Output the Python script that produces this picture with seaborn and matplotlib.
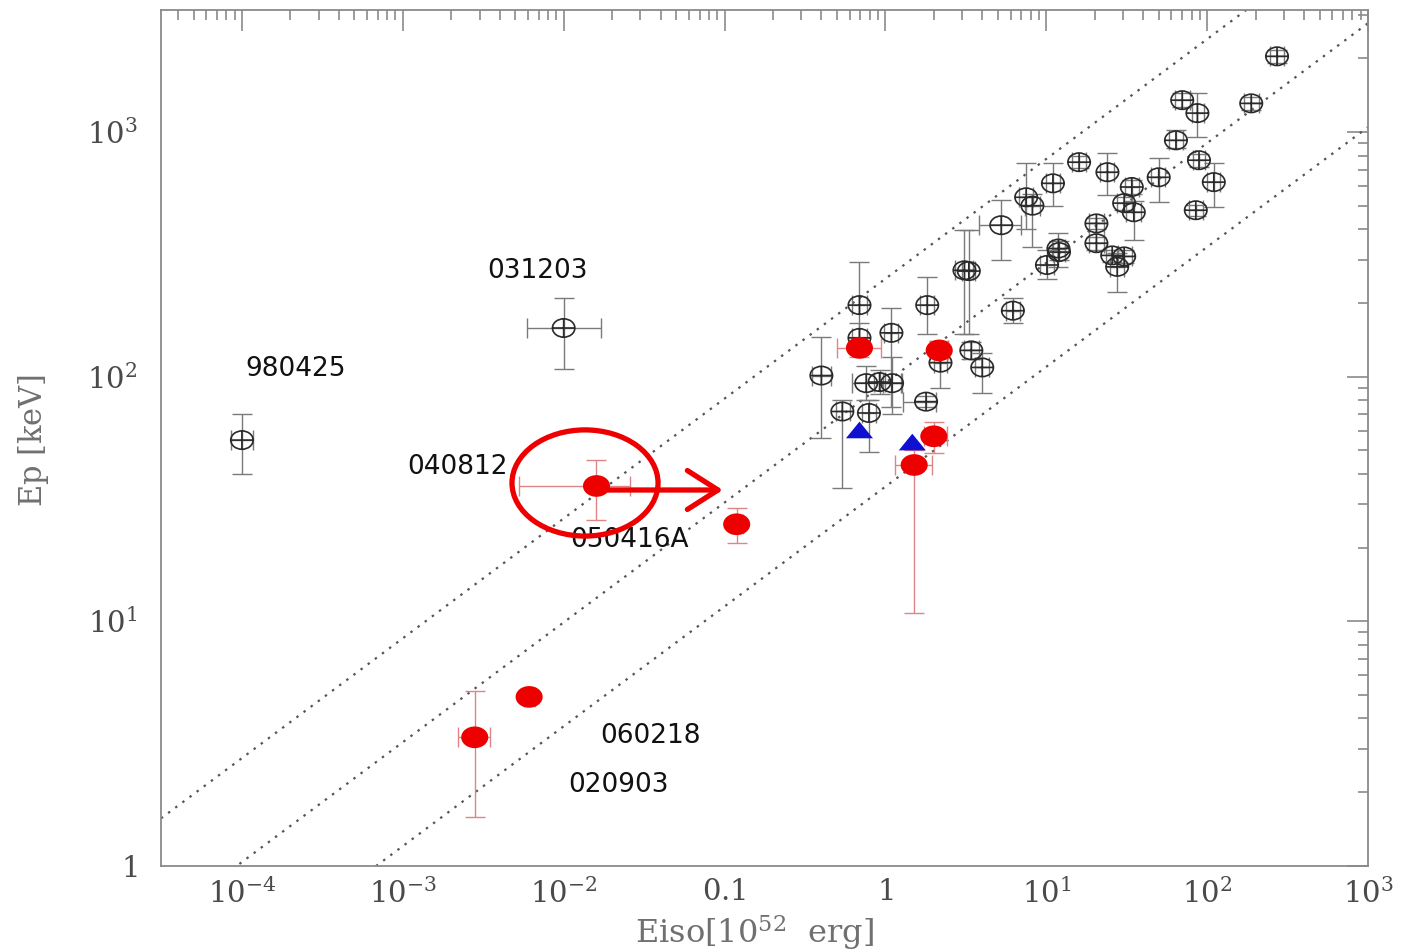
import numpy as np
import pandas as pd
import matplotlib
matplotlib.use("Agg")
import matplotlib.pyplot as plt
import seaborn as sns
from matplotlib.path import Path
from matplotlib.patches import Ellipse

# ---------------- data ----------------
# Long GRBs (open circles): Eiso [1e52 erg], Ep [keV], and error bounds
grb_eiso = [1.0e-4, 0.010, 272, 70, 87, 188, 64, 89, 110, 85, 50, 34, 30.5, 35, 24,
            16, 11, 7.5, 8.2, 5.25, 20.5, 20.5, 11.9, 25.7, 30.5, 27.6, 12, 10.1, 3.1,
            3.3, 6.2, 0.69, 1.82, 1.09, 0.69, 2.2, 3.42, 4.0, 0.40, 0.76, 0.92, 1.1,
            0.54, 0.79, 1.79]
grb_ep = [55, 158, 2040, 1350, 1195, 1310, 925, 767, 624, 479, 653, 596, 512, 470, 685,
          753, 617, 541, 500, 416, 423, 351, 334, 313, 310, 281, 323, 286, 272,
          270, 186, 196, 196, 151, 144, 114, 128, 109, 101, 94, 95, 94,
          72, 71, 79]
grb_eiso_lo = [0.85e-4, 0.0059, 245, 63, 80, 170, 58, 82, 100, 77, 45, 31, 27.5, 31.5, 21.5,
               14.5, 10, 6.8, 7.4, 3.8, 18.5, 18.5, 10.8, 23.5, 27.5, 25, 11, 9.2, 2.7,
               3.0, 5.6, 0.62, 1.65, 0.98, 0.62, 2.0, 3.1, 3.6, 0.35, 0.62, 0.85, 0.97,
               0.49, 0.72, 1.28]
grb_eiso_hi = [1.18e-4, 0.017, 300, 78, 95, 210, 71, 97, 121, 94, 55, 37.5, 34, 39, 26.5,
               17.6, 12.2, 8.3, 9.1, 7.0, 22.7, 22.7, 13.1, 28, 34, 30.5, 13, 11.2, 3.5,
               3.6, 6.9, 0.77, 2.0, 1.2, 0.77, 2.4, 3.8, 4.4, 0.46, 1.27, 1.0, 1.25,
               0.60, 0.87, 2.07]
grb_ep_lo = [40, 107, 1920, 1270, 950, 1230, 860, 720, 492, 455, 517, 560, 480, 361, 551,
             710, 500, 400, 338, 299, 400, 330, 280, 295, 292, 221, 300, 250, 150,
             150, 165, 130, 150, 75, 125, 90, 118, 86, 56, 80, 85, 70,
             35, 49, 75]
grb_ep_hi = [70, 209, 2170, 1440, 1440, 1390, 1020, 815, 745, 505, 782, 635, 545, 520, 818,
             800, 745, 745, 560, 525, 447, 372, 385, 330, 330, 320, 360, 330, 396,
             396, 209, 293, 256, 190, 165, 130, 138, 125, 145, 110, 106, 120,
             80, 80, 83]

# Sub-energetic / XRF events (filled red)
xrf_eiso = [0.016, 0.119, 0.0061, 0.0028, 0.69, 2.16, 2.0, 1.51]
xrf_ep = [35.7, 24.9, 4.9, 3.35, 131, 128, 57, 43.5]
xrf_eiso_lo = [0.0053, 0.110, 0.0057, 0.0022, 0.50, 1.90, 1.75, 1.14]
xrf_eiso_hi = [0.026, 0.130, 0.0066, 0.0035, 0.94, 2.45, 2.40, 1.96]
xrf_ep_lo = [26, 20.9, 4.7, 1.58, 120, 115, 48.5, 10.8]
xrf_ep_hi = [45.5, 29, 5.1, 5.2, 145, 140, 65, 50]

# Extra events (blue triangles)
tri_eiso = [0.69, 1.47]
tri_ep = [60.5, 54]

# Event names and where they are written
name_text = ["031203", "980425", "040812", "050416A", "060218", "020903"]
name_x = [0.0069, 2.16e-4, 2.2e-3, 0.0257, 0.0347, 0.022]
name_y = [270, 107, 42.7, 21.4, 3.4, 2.14]

# Ep-Eiso correlation (slope) and normalisations of the three dotted lines
corr_slope = 0.49
corr_log_norm = [2.40, 1.975, 1.55]

x_ticks = [1e-4, 1e-3, 1e-2, 0.1, 1, 10, 100, 1000]
x_ticklabels = [r"$10^{-4}$", r"$10^{-3}$", r"$10^{-2}$", r"$0.1$", r"$1$",
                r"$10^{1}$", r"$10^{2}$", r"$10^{3}$"]
y_ticks = [1, 10, 100, 1000]
y_ticklabels = [r"$1$", r"$10^{1}$", r"$10^{2}$", r"$10^{3}$"]

# ---------------- style ----------------
sns.set_style("white")
plt.rcParams["font.family"] = ["DejaVu Sans"]
plt.rcParams["mathtext.fontset"] = "dejavuserif"

W, H = 1402, 950
fig = plt.figure(figsize=(W / 100, H / 100), dpi=100)
ax = fig.add_axes([161 / W, 1 - 865.7 / H, 1207 / W, 856.2 / H])
ax.set_xscale("log")
ax.set_yscale("log")
xmin, xmax = 3.14e-5, 1000
ymin, ymax = 1, 3170
ax.set_xlim(xmin, xmax)
ax.set_ylim(ymin, ymax)

# markers: open ellipse with a cross, filled ellipse, wide triangle
circ = Path.unit_circle()
ell = Path(circ.vertices * np.array([1.22, 1.0]), circ.codes)
cross = Path([[-1.22, 0], [1.22, 0], [0, -1], [0, 1]],
             [Path.MOVETO, Path.LINETO, Path.MOVETO, Path.LINETO])
oplus = Path.make_compound_path(ell, cross)
red_ell = Path(circ.vertices * np.array([1.25, 1.0]), circ.codes)
tri = Path([[0, 0.8], [-1.3, -0.8], [1.3, -0.8], [0, 0.8]],
           [Path.MOVETO, Path.LINETO, Path.LINETO, Path.CLOSEPOLY])

# correlation lines
lx = np.array([xmin, xmax])
for c in corr_log_norm:
    ax.plot(lx, 10 ** (corr_slope * np.log10(lx) + c), color="#555555",
            lw=1.6, linestyle=(0, (1.1, 2.9)), zorder=1)

# error bars
grb = pd.DataFrame({"eiso": grb_eiso, "ep": grb_ep})
xrf = pd.DataFrame({"eiso": xrf_eiso, "ep": xrf_ep})
tri_df = pd.DataFrame({"eiso": tri_eiso, "ep": tri_ep})

ax.errorbar(grb["eiso"], grb["ep"],
            xerr=[grb["eiso"] - np.array(grb_eiso_lo), np.array(grb_eiso_hi) - grb["eiso"]],
            yerr=[grb["ep"] - np.array(grb_ep_lo), np.array(grb_ep_hi) - grb["ep"]],
            fmt="none", ecolor="#7a7a7a", elinewidth=1.0, capsize=7, capthick=1.0, zorder=2)
ax.errorbar(xrf["eiso"], xrf["ep"],
            xerr=[xrf["eiso"] - np.array(xrf_eiso_lo), np.array(xrf_eiso_hi) - xrf["eiso"]],
            yerr=[xrf["ep"] - np.array(xrf_ep_lo), np.array(xrf_ep_hi) - xrf["ep"]],
            fmt="none", ecolor="#e08585", elinewidth=1.0, capsize=7, capthick=1.0, zorder=2)

# points
sns.scatterplot(data=grb, x="eiso", y="ep", marker=oplus, s=260,
                facecolor="none", edgecolor="#2a2a2a", linewidth=1.2, ax=ax, zorder=3)
sns.scatterplot(data=xrf, x="eiso", y="ep", marker=red_ell, s=380,
                color="#ee0000", edgecolor="none", linewidth=0, ax=ax, zorder=4)
sns.scatterplot(data=tri_df, x="eiso", y="ep", marker=tri, s=380,
                color="#1010d0", edgecolor="none", linewidth=0, ax=ax, zorder=4)

# event names
for t, x, y in zip(name_text, name_x, name_y):
    ax.text(x, y, t, ha="center", va="center", fontsize=19, color="#111111",
            family="DejaVu Sans", zorder=5)

# highlight of 040812 and arrow
ax.add_patch(Ellipse((0.3513, 0.447), 0.121, 0.124, transform=ax.transAxes,
                     fill=False, edgecolor="#ee0000", lw=3.8, zorder=6))
ax.annotate("", xy=(0.4655, 0.4388), xytext=(0.3537, 0.4388),
            xycoords="axes fraction", textcoords="axes fraction",
            arrowprops=dict(arrowstyle="->,head_length=0.55,head_width=0.35",
                            lw=3.8, color="#ee0000", mutation_scale=40,
                            shrinkA=0, shrinkB=0),
            zorder=6)

# axes, ticks, labels
ax.set_xticks(x_ticks)
ax.set_xticklabels(x_ticklabels)
ax.set_yticks(y_ticks)
ax.set_yticklabels(y_ticklabels)
ax.xaxis.set_minor_locator(matplotlib.ticker.LogLocator(base=10, subs=np.arange(2, 10)))
ax.yaxis.set_minor_locator(matplotlib.ticker.LogLocator(base=10, subs=np.arange(2, 10)))
ax.xaxis.set_minor_formatter(matplotlib.ticker.NullFormatter())
ax.yaxis.set_minor_formatter(matplotlib.ticker.NullFormatter())
ax.tick_params(which="both", direction="in", top=True, right=True, color="#8a8a8a",
               width=1.2, labelcolor="#4a4a4a", labelsize=21)
ax.tick_params(which="major", length=15)
ax.tick_params(which="minor", length=7.5)
ax.tick_params(axis="y", which="major", pad=17)
ax.tick_params(axis="x", which="major", pad=9)
for s in ax.spines.values():
    s.set_color("#8a8a8a")
    s.set_linewidth(1.3)

ax.set_xlabel(r"$\mathrm{Eiso[10^{52}\ \ erg]}$", fontsize=23, color="#707070")
ax.xaxis.set_label_coords(0.492, -0.0775)
ax.xaxis.label.set_verticalalignment("center")
ax.set_ylabel(r"$\mathrm{Ep\ [keV]}$", fontsize=22, color="#707070")
ax.yaxis.set_label_coords(-0.106, 0.497)
ax.yaxis.label.set_verticalalignment("center")

fig.savefig("out.png", dpi=100, facecolor="white")
